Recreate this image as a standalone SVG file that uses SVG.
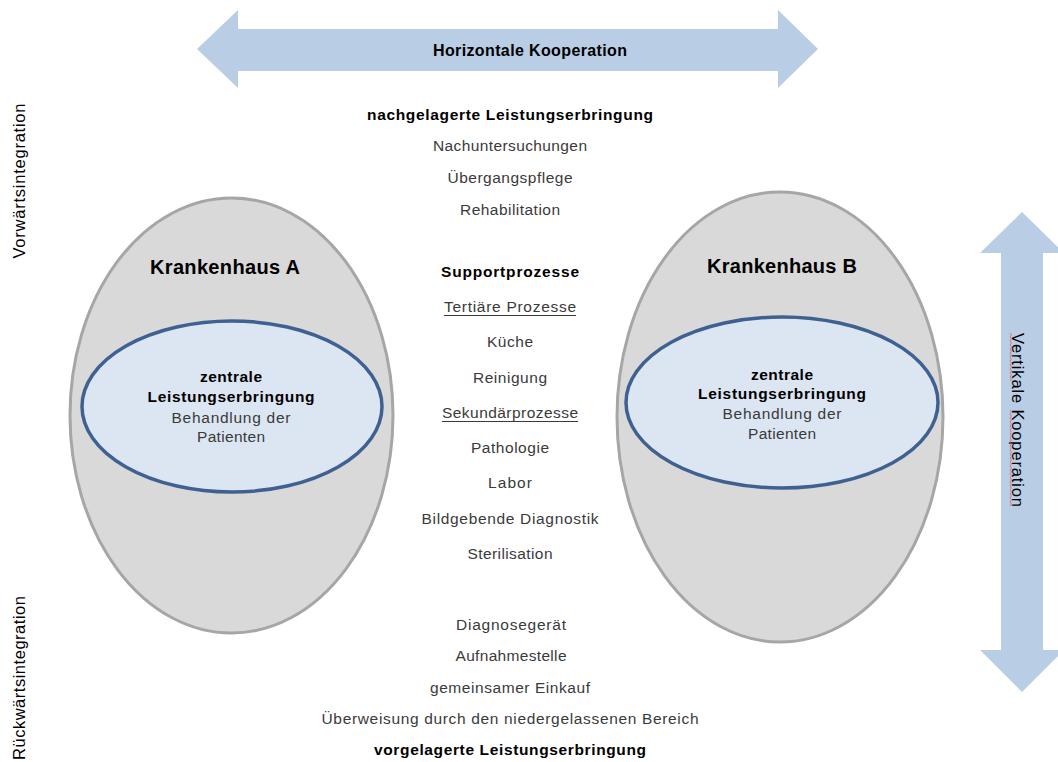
<svg xmlns="http://www.w3.org/2000/svg" width="1058" height="762" viewBox="0 0 1058 762">
<style>
text{font-family:"Liberation Sans",Arial,sans-serif;text-anchor:middle}
.b{font-weight:bold;fill:#000;font-size:15.5px}
.r{fill:#3a3a3a;font-size:15.5px}
.s{fill:#000;font-size:16.5px}
.kh{font-weight:bold;fill:#000;font-size:20px}
.ul{stroke:#3a3a3a;stroke-width:1}
.outer{fill:#d9d9d9;stroke:#a6a6a6;stroke-width:3}
.inner{fill:#dce6f2;stroke:#3f6192;stroke-width:3.5}
.arrow{fill:#b9cde5}
</style>
<rect width="1058" height="762" fill="#fff"/>
<g id="connectors">
  <g id="horizontal-arrow">
    <polygon class="arrow" points="197,49 238,10 238,29 778,29 778,10 818,49 778,88 778,71 238,71 238,88"/>
    <text class="b" style="font-size:16px" x="530" y="56" textLength="194" lengthAdjust="spacing">Horizontale Kooperation</text>
  </g>
  <g id="vertical-arrow">
    <polygon class="arrow" points="1022,212 1064,253 1043,253 1043,650 1064,650 1022,692 980,650 1001,650 1001,253 980,253"/>
    <text class="s" transform="translate(1012,420) rotate(90)" textLength="174" lengthAdjust="spacing">Vertikale Kooperation</text>
    <path d="M1010,333 l1.5,2 l-1.5,2 l1.5,2 l-1.5,2 l1.5,2 l-1.5,2 l1.5,2 l-1.5,2 l1.5,2 l-1.5,2 l1.5,2 l-1.5,2 l1.5,2 l-1.5,2 l1.5,2 l-1.5,2 l1.5,2 l-1.5,2 l1.5,2 l-1.5,2 l1.5,2 l-1.5,2 l1.5,2 l-1.5,2" fill="none" stroke="#e06060" stroke-width="0.8"/>
    <path d="M1010,410 l1.5,2 l-1.5,2 l1.5,2 l-1.5,2 l1.5,2 l-1.5,2 l1.5,2 l-1.5,2 l1.5,2 l-1.5,2 l1.5,2 l-1.5,2 l1.5,2 l-1.5,2 l1.5,2 l-1.5,2 l1.5,2 l-1.5,2 l1.5,2 l-1.5,2 l1.5,2 l-1.5,2 l1.5,2 l-1.5,2 l1.5,2 l-1.5,2 l1.5,2 l-1.5,2 l1.5,2 l-1.5,2 l1.5,2 l-1.5,2 l1.5,2 l-1.5,2 l1.5,2 l-1.5,2 l1.5,2 l-1.5,2 l1.5,2 l-1.5,2 l1.5,2 l-1.5,2 l1.5,2 l-1.5,2 l1.5,2 l-1.5,2 l1.5,2 l-1.5,2" fill="none" stroke="#e06060" stroke-width="0.8"/>
  </g>
</g>
<g id="side-labels">
  <text class="s" transform="translate(25,181) rotate(-90)" textLength="155" lengthAdjust="spacing">Vorwärtsintegration</text>
  <text class="s" transform="translate(25,678) rotate(-90)" textLength="164" lengthAdjust="spacing">Rückwärtsintegration</text>
</g>
<g id="krankenhaus-a">
  <ellipse class="outer" cx="231.5" cy="415.5" rx="161.5" ry="217.5"/>
  <text class="kh" x="225" y="274" textLength="150" lengthAdjust="spacing">Krankenhaus A</text>
  <g id="zentral-a">
    <ellipse class="inner" cx="232" cy="406.5" rx="150" ry="85.5"/>
    <text class="b" x="231" y="382" textLength="62" lengthAdjust="spacing">zentrale</text>
    <text class="b" x="231" y="402" textLength="167" lengthAdjust="spacing">Leistungserbringung</text>
    <text class="r" x="231" y="423" textLength="119" lengthAdjust="spacing">Behandlung  der</text>
    <text class="r" x="231" y="442" textLength="68" lengthAdjust="spacing">Patienten</text>
  </g>
</g>
<g id="krankenhaus-b">
  <ellipse class="outer" cx="780" cy="417" rx="163" ry="225"/>
  <text class="kh" x="782" y="273" textLength="150" lengthAdjust="spacing">Krankenhaus B</text>
  <g id="zentral-b">
    <ellipse class="inner" cx="782" cy="402.5" rx="156" ry="85.5"/>
    <text class="b" x="782" y="380" textLength="62" lengthAdjust="spacing">zentrale</text>
    <text class="b" x="782" y="399" textLength="168" lengthAdjust="spacing">Leistungserbringung</text>
    <text class="r" x="782" y="419" textLength="119" lengthAdjust="spacing">Behandlung  der</text>
    <text class="r" x="782" y="439" textLength="68" lengthAdjust="spacing">Patienten</text>
  </g>
</g>
<g id="nachgelagert">
  <text class="b" x="510" y="120" textLength="286" lengthAdjust="spacing">nachgelagerte Leistungserbringung</text>
  <text class="r" x="510" y="151" textLength="154" lengthAdjust="spacing">Nachuntersuchungen</text>
  <text class="r" x="510" y="183" textLength="125" lengthAdjust="spacing">Übergangspflege</text>
  <text class="r" x="510" y="215" textLength="100" lengthAdjust="spacing">Rehabilitation</text>
</g>
<g id="support">
  <text class="b" x="510" y="277" textLength="138" lengthAdjust="spacing">Supportprozesse</text>
  <text class="r" x="510" y="312" textLength="132" lengthAdjust="spacing">Tertiäre Prozesse</text>
  <line class="ul" x1="444" y1="315.5" x2="576" y2="315.5"/>
  <text class="r" x="510" y="347" textLength="46" lengthAdjust="spacing">Küche</text>
  <text class="r" x="510" y="383" textLength="74" lengthAdjust="spacing">Reinigung</text>
  <text class="r" x="510" y="418" textLength="136" lengthAdjust="spacing">Sekundärprozesse</text>
  <line class="ul" x1="442" y1="421.5" x2="578" y2="421.5"/>
  <text class="r" x="510" y="453" textLength="78" lengthAdjust="spacing">Pathologie</text>
  <text class="r" x="510" y="488" textLength="44" lengthAdjust="spacing">Labor</text>
  <text class="r" x="510" y="524" textLength="177" lengthAdjust="spacing">Bildgebende Diagnostik</text>
  <text class="r" x="510" y="559" textLength="85" lengthAdjust="spacing">Sterilisation</text>
</g>
<g id="vorgelagert">
  <text class="r" x="511" y="630" textLength="110" lengthAdjust="spacing">Diagnosegerät</text>
  <text class="r" x="511" y="661" textLength="111" lengthAdjust="spacing">Aufnahmestelle</text>
  <text class="r" x="510" y="693" textLength="160" lengthAdjust="spacing">gemeinsamer Einkauf</text>
  <text class="r" x="510" y="724" textLength="377" lengthAdjust="spacing">Überweisung durch den niedergelassenen Bereich</text>
  <text class="b" x="510" y="755" textLength="272" lengthAdjust="spacing">vorgelagerte Leistungserbringung</text>
</g>
</svg>
